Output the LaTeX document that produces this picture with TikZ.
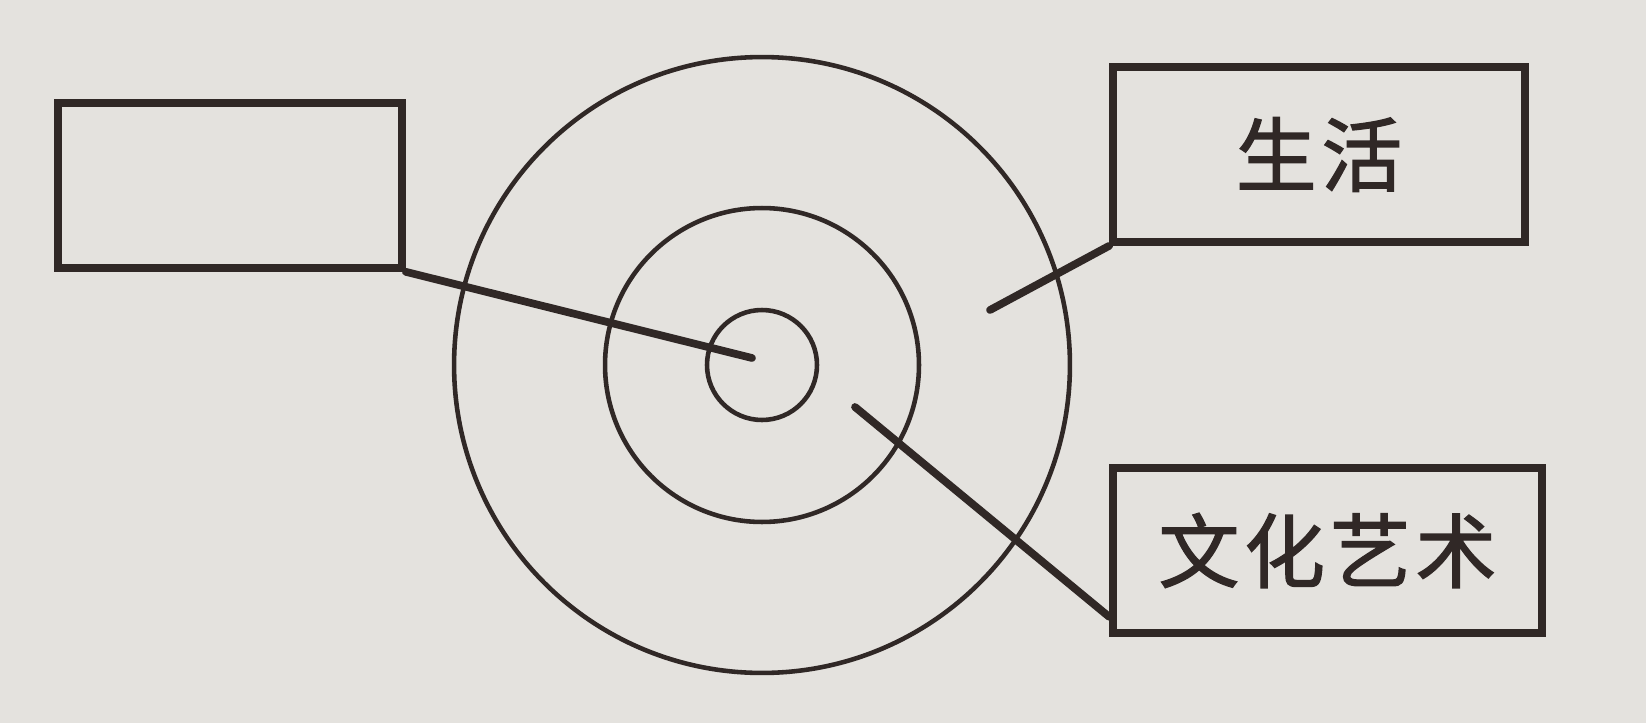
\documentclass[tikz,border=0pt]{standalone}
\usepackage{fontspec}
\newfontfamily\cjk[LetterSpace=6,FakeBold=1.6]{Noto Sans CJK SC}
\definecolor{ink}{RGB}{48,40,38}
\definecolor{paper}{RGB}{228,226,222}
\begin{document}
\begin{tikzpicture}[x=0.02cm,y=-0.02cm,line cap=round,
  box/.style={draw=ink,line width=4.4pt,rectangle,inner sep=0pt,text=ink,font=\cjk\fontsize{46}{50}\selectfont},
  ring/.style={draw=ink,line width=2.6pt,circle,inner sep=0pt}]
  \fill[paper] (0,0) rectangle (1646,723);
  \useasboundingbox (0,0) rectangle (1646,723);
  \coordinate (O) at (762,365);
  \node[ring,minimum size=12.32cm] (C3) at (O) {};
  \node[ring,minimum size=6.28cm] (C2) at (O) {};
  \node[ring,minimum size=2.2cm] (C1) at (O) {};
  \node[box,minimum width=6.88cm,minimum height=3.3cm] (L) at (230,185.5) {};
  \node[box,minimum width=8.24cm,minimum height=3.5cm] (R1) at (1319,154.5) {生活};
  \node[box,minimum width=8.58cm,minimum height=3.3cm] (R2) at (1327.5,550.5) {文化艺术};
  \coordinate (P1) at (752,358); \coordinate (P2) at (990,310); \coordinate (P3) at (855,407);
  \draw[ink,line width=4.4pt] (L.south east)--(P1);
  \draw[ink,line width=4.4pt] (R1.south west)--(P2);
  \draw[ink,line width=4.4pt] (P3)--([yshift=0.4cm]R2.south west);
\end{tikzpicture}
\end{document}
